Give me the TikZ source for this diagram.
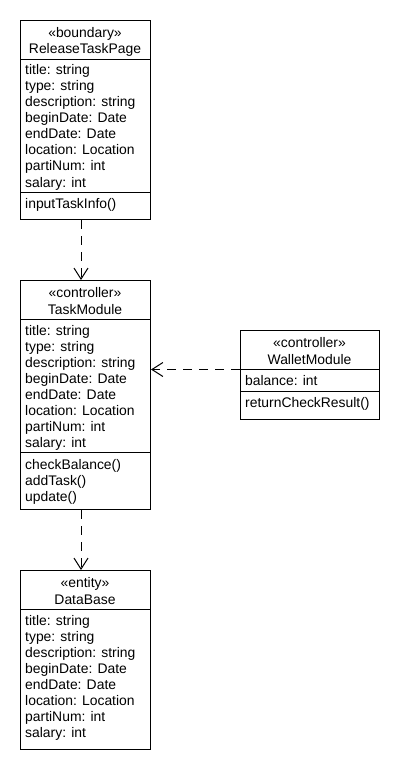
\documentclass[tikz,border=0pt]{standalone}
\usepackage{fontspec}
\setmainfont{Liberation Sans}
\usetikzlibrary{arrows.meta}
\begin{document}
\begin{tikzpicture}[x=1pt,y=-1pt,
  classbox/.style={draw, line width=1pt, anchor=north west, inner sep=0pt},
  divider/.style={line width=1pt},
  txt/.style={anchor=base west, inner sep=0pt, font=\fontsize{13.9}{16}\selectfont},
  ctxt/.style={anchor=base, inner sep=0pt, font=\fontsize{13.9}{16}\selectfont},
  dep/.style={line width=1pt, dash pattern=on 9pt off 7pt,
    -{Straight Barb[length=11pt,width=14pt,line width=1pt]}}]
\fill[white] (0,0) rectangle (400,770);
\useasboundingbox (0,0) rectangle (400,770);

% ReleaseTaskPage
\node[classbox, minimum width=130pt, minimum height=199pt] (rtp) at (20,20) {};
\draw[divider] (20,60) -- (150,60);
\draw[divider] (20,192) -- (150,192);
\node[ctxt] (rtps) at (85,37.5) {«boundary»};
\node[ctxt] (rtpn) at (85,54) {ReleaseTaskPage};
\foreach [count=\i from 0] \t in {title: string, type: string, description: string, beginDate: Date, endDate: Date, location: Location, partiNum: int, salary: int}
  \node[txt] (rtpa\i) at (25,75+16*\i) {\t};
\node[txt] (rtpo) at (25,208.5) {inputTaskInfo()};

% TaskModule
\node[classbox, minimum width=130pt, minimum height=229pt] (tm) at (20,280) {};
\draw[divider] (20,319.5) -- (150,319.5);
\draw[divider] (20,452.5) -- (150,452.5);
\node[ctxt] (tms) at (85,297.5) {«controller»};
\node[ctxt] (tmn) at (85,314) {TaskModule};
\foreach [count=\i from 0] \t in {title: string, type: string, description: string, beginDate: Date, endDate: Date, location: Location, partiNum: int, salary: int}
  \node[txt] (tma\i) at (25,335+16*\i) {\t};
\foreach [count=\i from 0] \t in {checkBalance(), addTask(), update()}
  \node[txt] (tmo\i) at (25,469+16*\i) {\t};

% WalletModule
\node[classbox, minimum width=139pt, minimum height=89pt] (wm) at (240,330) {};
\draw[divider] (240,369) -- (379,369);
\draw[divider] (240,391) -- (379,391);
\node[ctxt] (wms) at (309.5,347.5) {«controller»};
\node[ctxt] (wmn) at (309.5,364) {WalletModule};
\node[txt] (wma) at (245,385) {balance: int};
\node[txt] (wmo) at (245,407.5) {returnCheckResult()};

% DataBase
\node[classbox, minimum width=130pt, minimum height=179pt] (db) at (20,570) {};
\draw[divider] (20,609.5) -- (150,609.5);
\node[ctxt] (dbs) at (85,587.5) {«entity»};
\node[ctxt] (dbn) at (85,604) {DataBase};
\foreach [count=\i from 0] \t in {title: string, type: string, description: string, beginDate: Date, endDate: Date, location: Location, partiNum: int, salary: int}
  \node[txt] (dba\i) at (25,625+16*\i) {\t};

% dependencies
\draw[dep] ([xshift=-4.5pt]rtp.south) -- ([xshift=-4.5pt]tm.north);
\draw[dep] ([yshift=5.5pt]wm.west) -- ([yshift=5.5pt]wm.west -| tm.east);
\draw[dep] ([xshift=-4.5pt]tm.south) -- ([xshift=-4.5pt]db.north);
\end{tikzpicture}
\end{document}
